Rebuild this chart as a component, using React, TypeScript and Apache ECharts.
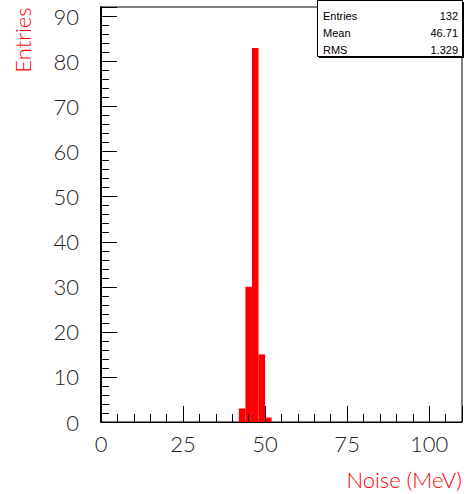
import React, { useEffect, useRef } from 'react';
import * as echarts from 'echarts';

// Histogram contents: bin edges (MeV) and entries per bin
const binEdges = [42, 44, 46, 48, 50, 52];
const binCounts = [3, 30, 83, 15, 1];

// Axis ranges and tick spacing
const X_MIN = 0;
const X_MAX = 110;
const X_MAJOR = 25;
const X_MINOR = 5;
const Y_MIN = 0;
const Y_MAX = 92.1;
const Y_MAJOR = 10;
const Y_MINOR = 2;

const statNames = ['Entries', 'Mean', 'RMS'];

const FONT = "Lato, 'Liberation Sans', Arial, sans-serif";
const STAT_FONT = "'Liberation Sans', Arial, sans-serif";
const RED = '#ff0000';

function computeStats() {
  let n = 0;
  let sum = 0;
  for (let i = 0; i < binCounts.length; i++) {
    const c = (binEdges[i] + binEdges[i + 1]) / 2;
    n += binCounts[i];
    sum += binCounts[i] * c;
  }
  const mean = sum / n;
  let sq = 0;
  for (let i = 0; i < binCounts.length; i++) {
    const c = (binEdges[i] + binEdges[i + 1]) / 2;
    sq += binCounts[i] * (c - mean) * (c - mean);
  }
  const rms = Math.sqrt(sq / n);
  return [String(n), mean.toFixed(2), rms.toFixed(3)];
}

export default function App() {
  const ref = useRef<HTMLDivElement>(null);

  useEffect(() => {
    if (!ref.current) return;
    const chart = echarts.init(ref.current, null, { renderer: 'svg' });

    const data = binCounts.map((c, i) => [binEdges[i], binEdges[i + 1], c]);
    const statValues = computeStats();

    const statGraphics: any[] = [];
    statNames.forEach((name, i) => {
      const y = 16 + i * 17;
      statGraphics.push({
        type: 'text',
        x: 323,
        y,
        style: { text: name, font: `11px ${STAT_FONT}`, fill: '#000', textAlign: 'left', textVerticalAlign: 'middle' },
      });
      statGraphics.push({
        type: 'text',
        x: 458,
        y,
        style: { text: statValues[i], font: `11px ${STAT_FONT}`, fill: '#000', textAlign: 'right', textVerticalAlign: 'middle' },
      });
    });

    const tickLabel = {
      fontSize: 22,
      fontFamily: FONT,
      fontWeight: 300,
      color: '#222',
    };

    chart.setOption({
      animation: false,
      backgroundColor: '#ffffff',
      grid: {
        left: 101,
        right: 4,
        top: 7,
        bottom: 72,
        show: true,
        borderColor: '#000',
        borderWidth: 1,
        backgroundColor: 'transparent',
      },
      xAxis: [
        {
          type: 'value',
          position: 'bottom',
          min: X_MIN,
          max: X_MAX,
          interval: X_MAJOR,
          z: 5,
          axisLine: { show: true, onZero: false, lineStyle: { color: '#000', width: 1 } },
          axisTick: { show: true, inside: true, length: 16, lineStyle: { color: '#000', width: 1 } },
          axisLabel: {
            ...tickLabel,
            margin: 10,
            formatter: (v: number) => (v % X_MAJOR === 0 ? String(v) : ''),
          },
          splitLine: { show: false },
        },
        {
          type: 'value',
          position: 'bottom',
          min: X_MIN,
          max: X_MAX,
          interval: X_MINOR,
          z: 5,
          axisLine: { show: false },
          axisTick: { show: true, inside: true, length: 8, lineStyle: { color: '#000', width: 1 } },
          axisLabel: { show: false },
          splitLine: { show: false },
        },
      ],
      yAxis: [
        {
          type: 'value',
          position: 'left',
          min: Y_MIN,
          max: Y_MAX,
          interval: Y_MAJOR,
          z: 5,
          axisLine: { show: true, onZero: false, lineStyle: { color: '#000', width: 2 } },
          axisTick: { show: true, inside: true, length: 16, lineStyle: { color: '#000', width: 1 } },
          axisLabel: {
            ...tickLabel,
            margin: 22,
            formatter: (v: number) => (v % Y_MAJOR === 0 ? String(v) : ''),
          },
          splitLine: { show: false },
        },
        {
          type: 'value',
          position: 'left',
          min: Y_MIN,
          max: Y_MAX,
          interval: Y_MINOR,
          z: 5,
          axisLine: { show: false },
          axisTick: { show: true, inside: true, length: 8, lineStyle: { color: '#000', width: 1 } },
          axisLabel: { show: false },
          splitLine: { show: false },
        },
      ],
      series: [
        {
          type: 'custom',
          xAxisIndex: 0,
          yAxisIndex: 0,
          z: 2,
          data,
          encode: { x: [0, 1], y: 2 },
          renderItem: (params: any, api: any) => {
            const lo = api.value(0);
            const hi = api.value(1);
            const n = api.value(2);
            const p0 = api.coord([lo, n]);
            const p1 = api.coord([hi, 0]);
            return {
              type: 'rect',
              shape: { x: p0[0], y: p0[1], width: p1[0] - p0[0], height: p1[1] - p0[1] },
              style: { fill: RED, stroke: null },
            };
          },
        },
      ],
      graphic: [
        {
          type: 'text',
          x: 22,
          y: 40,
          rotation: Math.PI / 2,
          style: {
            text: 'Entries',
            font: `300 22px ${FONT}`,
            fill: RED,
            textAlign: 'center',
            textVerticalAlign: 'middle',
          },
          z: 10,
        },
        {
          type: 'text',
          x: 462,
          y: 479,
          style: {
            text: 'Noise (MeV)',
            font: `300 22px ${FONT}`,
            fill: RED,
            textAlign: 'right',
            textVerticalAlign: 'middle',
          },
          z: 10,
        },
        {
          type: 'group',
          z: 20,
          children: [
            { type: 'rect', shape: { x: 319, y: 2, width: 145, height: 56 }, style: { fill: '#000' } },
            {
              type: 'rect',
              shape: { x: 317.5, y: 0.5, width: 145, height: 56 },
              style: { fill: '#fff', stroke: '#000', lineWidth: 1 },
            },
            ...statGraphics,
          ],
        },
      ],
    });

    return () => {
      chart.dispose();
    };
  }, []);

  return (
    <div
      ref={ref}
      style={{ position: 'absolute', left: 0, top: 0, width: 466, height: 494, background: '#fff' }}
    />
  );
}
